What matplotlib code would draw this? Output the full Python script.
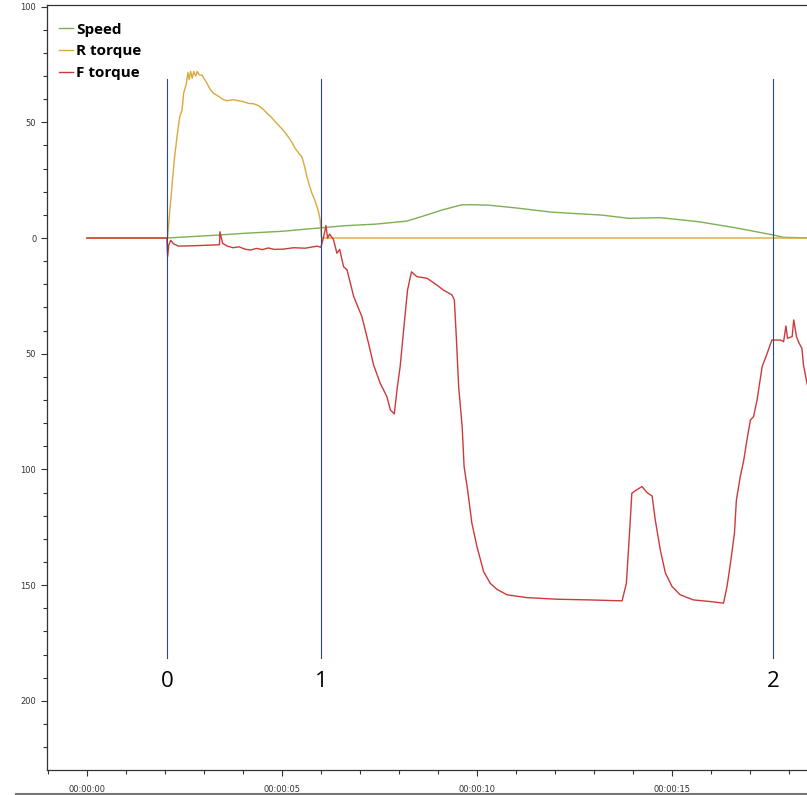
import numpy as np
import matplotlib
matplotlib.use('Agg')
import matplotlib.pyplot as plt
from matplotlib.ticker import MultipleLocator, FixedLocator
from matplotlib.lines import Line2D

# time in seconds
speed_t = [0, 2.05, 3.4, 4.0, 5.0, 6.0, 6.6, 7.4, 8.2, 8.7, 9.1, 9.6, 9.85, 10.3, 11.0, 11.9,
           13.2, 13.9, 14.7, 15.7, 16.6, 17.6, 17.85, 18.6]
speed_v = [0, 0, 1.3, 2.0, 2.9, 4.4, 5.3, 6.0, 7.3, 9.9, 12.1, 14.3, 14.4, 14.2, 13.0, 11.2,
           9.9, 8.5, 8.8, 7.0, 4.5, 1.3, 0.3, 0]

rtq_t = [0, 2.05, 2.07, 2.12, 2.18, 2.24, 2.31, 2.38, 2.44, 2.48, 2.55, 2.59, 2.62, 2.66, 2.70,
         2.74, 2.79, 2.83, 2.88, 2.95, 3.02, 3.08, 3.16, 3.25, 3.37, 3.48, 3.59, 3.75, 3.89,
         4.0, 4.14, 4.28, 4.40, 4.52, 4.62, 4.75, 4.87, 5.0, 5.13, 5.24, 5.34, 5.44, 5.51,
         5.58, 5.64, 5.70, 5.77, 5.84, 5.90, 5.95, 5.98, 6.01, 6.05, 18.6]
rtq_v = [0, 0, 0.5, 10.7, 22.2, 33.7, 43.8, 52.4, 55.3, 62.5, 66.8, 71.5, 68.5, 72, 69,
         72, 70, 72, 70.5, 70.4, 68.5, 66.8, 64.2, 62.5, 61.3, 60.0, 59.3, 59.8, 59.3,
         59.0, 58.2, 58.0, 57.2, 55.6, 53.9, 51.8, 49.5, 47.2, 44.5, 41.8, 38.7, 36.5, 35.1,
         31.0, 26.5, 23.0, 19.3, 16.5, 13.5, 10.5, 7.8, 0.5, 0, 0]

ftq_t = [0, 2.05, 2.07, 2.10, 2.15, 2.22, 2.35, 2.8, 3.40, 3.41, 3.48, 3.6, 3.75, 3.9, 4.05,
         4.19, 4.35, 4.5, 4.65, 4.8, 5.04, 5.3, 5.6, 5.9, 6.0, 6.07, 6.13, 6.17, 6.22, 6.32,
         6.41, 6.48, 6.58, 6.67, 6.84, 7.05, 7.22, 7.35, 7.52, 7.69, 7.78, 7.88, 7.96, 8.03,
         8.12, 8.22, 8.32, 8.46, 8.72, 8.97, 9.14, 9.36, 9.42, 9.47, 9.53, 9.62, 9.67, 9.76,
         9.87, 10.0, 10.17, 10.34, 10.51, 10.77, 11.28, 12.05, 12.9, 13.72, 13.83, 13.91,
         13.97, 14.06, 14.23, 14.36, 14.49, 14.57, 14.70, 14.83, 15.0, 15.21, 15.55, 15.98,
         16.32, 16.41, 16.51, 16.60, 16.65, 16.75, 16.84, 16.92, 17.01, 17.09, 17.18, 17.31,
         17.44, 17.56, 17.78, 17.86, 17.92, 17.96, 18.08, 18.12, 18.19, 18.26, 18.33, 18.37,
         18.46, 18.6]
ftq_v = [0, 0, -8, -3, -1, -2.5, -3.5, -3.3, -2.9, 2.7, -2.3, -3.5, -4.2, -3.8, -4.8,
         -5.2, -4.5, -5.0, -4.3, -4.9, -4.8, -4.2, -4.4, -3.5, -4.0, 0.6, 5.4, -0.1, 1.7, -0.6,
         -6.6, -4.9, -12.4, -13.8, -25.3, -34, -45.5, -54.9, -62.8, -68.5, -74.3, -76, -64.2, -55.6,
         -39.7, -22.5, -14.6, -16.7, -17.4, -20.3, -22.5, -24.6, -26.8, -42.6, -64.2, -81.5, -98.8, -108.9,
         -123.3, -133.4, -144.2, -149.2, -151.8, -154.2, -155.4, -156.1, -156.4, -156.8, -149.2, -127.6,
         -110.3, -109.2, -107.4, -110, -111.5, -121.8, -134.8, -144.8, -150.6, -154.2, -156.4, -157.1,
         -157.8, -150.6, -139.1, -127.6, -113.2, -103.1, -95.9, -87.3, -78.6, -77.2, -70, -55.6,
         -49.8, -44.1, -44.1, -44.8, -38, -43.3, -42.6, -35.4, -42.6, -45.5, -47.7, -54.9,
         -62.8, -72]

marker_t = [2.06, 6.01, 17.6]
marker_lbl = ['0', '1', '2']

xtick_pos = [0, 5, 10, 15]
xtick_lbl = ['00:00:00', '00:00:05', '00:00:10', '00:00:15']
ytick_pos = [100, 50, 0, -50, -100, -150, -200]
ytick_lbl = ['100', '50', '0', '50', '100', '150', '200']

c_speed = '#7fae55'
c_rtq = '#d9a93c'
c_ftq = '#cc3a3a'
c_mark = '#2a4690'

fig = plt.figure(figsize=(8.07, 7.95), dpi=100)
ax = fig.add_axes([46.7 / 807, 25 / 795, 1 - 46.7 / 807, 765 / 795])

ax.plot(speed_t, speed_v, color=c_speed, lw=1.0, label='Speed')
ax.plot(rtq_t, rtq_v, color=c_rtq, lw=1.0, label='R torque')
ax.plot(ftq_t, ftq_v, color=c_ftq, lw=1.0, label='F torque')

for t, lbl in zip(marker_t, marker_lbl):
    ax.plot([t, t], [68.7, -181.5], color=c_mark, lw=0.8)
    ax.text(t, -191.5, lbl, ha='center', va='center', fontsize=16, family='Open Sans')

ax.set_xlim(-1.03, 18.46)
ax.set_ylim(-229.9, 100.7)

ax.xaxis.set_major_locator(FixedLocator(xtick_pos))
ax.xaxis.set_minor_locator(MultipleLocator(1))
ax.set_xticklabels(xtick_lbl)
ax.yaxis.set_major_locator(FixedLocator(ytick_pos))
ax.yaxis.set_minor_locator(MultipleLocator(10))
ax.set_yticklabels(ytick_lbl)

ax.tick_params(which='major', direction='out', length=4.5, width=0.8, color='#333333',
               labelsize=6, labelcolor='#333333', pad=6)
ax.tick_params(which='minor', direction='out', length=3, width=0.8, color='#333333')
for lab in ax.get_xticklabels() + ax.get_yticklabels():
    lab.set_family(['Liberation Sans Narrow', 'DejaVu Sans'])
ax.tick_params(axis='y', pad=3)

for side in ['left', 'top', 'bottom']:
    ax.spines[side].set_color('#333333')
    ax.spines[side].set_linewidth(0.9)
ax.spines['right'].set_visible(False)

leg = ax.legend(loc='upper left', bbox_to_anchor=(-0.002, 0.995), frameon=False,
                handlelength=0.9, handletextpad=0.25, labelspacing=0.5,
                prop={'family': 'Open Sans', 'weight': 'bold', 'size': 11})

# window border at the bottom
fig.add_artist(Line2D([0.02, 1], [1 / 795, 1 / 795], color='#777777', lw=1.5))

fig.savefig('out.png', dpi=100)
